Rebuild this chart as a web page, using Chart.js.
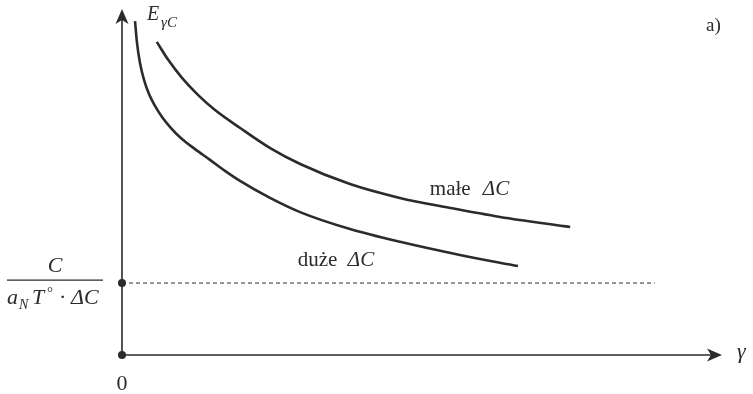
<!DOCTYPE html>
<html>
<head>
<meta charset="utf-8">
<script src="https://cdn.jsdelivr.net/npm/chart.js@4/dist/chart.umd.min.js"></script>
<style>
  html, body { margin: 0; padding: 0; background: #fff; }
  #chart { display: block; }
</style>
</head>
<body>
<canvas id="chart" width="753" height="394"></canvas>
<script>
// curve "duże ΔC" (lower one)
const dużeX = [2.17, 2.5, 3.0, 3.67, 4.5, 5.5, 6.67, 8.17, 10.0, 12.17, 14.67, 17.17, 19.67, 24.67, 29.67, 38.0, 46.33, 56.33, 66.0];
const dużeY = [96.5, 90.2, 84.4, 79.5, 75.4, 72.0, 68.8, 65.6, 62.4, 59.5, 56.4, 53.2, 50.3, 45.4, 41.3, 36.4, 32.7, 28.9, 25.7];
// curve "małe ΔC" (upper one)
const maleX = [5.8, 7.7, 10.0, 12.7, 15.5, 19.7, 24.7, 29.7, 38.0, 46.3, 54.7, 63.0, 74.7];
const maleY = [90.5, 85.3, 80.1, 75.1, 70.8, 65.6, 59.8, 55.2, 49.4, 45.4, 42.5, 39.9, 37.0];
// asymptote level C / (aN T° ΔC) and where the dashed line stops
const asymY = 20.8;
const asymEndX = 88.8;
const labels = { male: "małe", duze: "duże", dC: "ΔC", axisY: "E", axisYSub: "γC", axisX: "γ", tag: "a)", zero: "0" };

const ink = "#2b2b2b";
const serif = "'Liberation Serif', 'DejaVu Serif', serif";

function toPoints(xs, ys) {
  return xs.map((x, i) => ({ x: x, y: ys[i] }));
}

function arrowHead(ctx, x, y, dir) {
  // filled stealth-like head, pointing up or right
  ctx.save();
  ctx.translate(x, y);
  if (dir === "right") ctx.rotate(Math.PI / 2);
  ctx.beginPath();
  ctx.moveTo(0, 0);
  ctx.lineTo(6.5, 15);
  ctx.lineTo(0, 11);
  ctx.lineTo(-6.5, 15);
  ctx.closePath();
  ctx.fillStyle = ink;
  ctx.fill();
  ctx.restore();
}

const axesPlugin = {
  id: "axes",
  beforeDatasetsDraw(chart) {
    const ctx = chart.ctx;
    const xs = chart.scales.x;
    const ys = chart.scales.y;
    const x0 = xs.getPixelForValue(0);
    const y0 = ys.getPixelForValue(0);
    const yTop = ys.getPixelForValue(100);
    const xEnd = xs.getPixelForValue(100);
    ctx.save();
    ctx.strokeStyle = ink;
    ctx.lineWidth = 1.6;
    ctx.beginPath();
    ctx.moveTo(x0, y0);
    ctx.lineTo(x0, yTop + 8);
    ctx.moveTo(x0, y0);
    ctx.lineTo(xEnd - 8, y0);
    ctx.stroke();
    arrowHead(ctx, x0, yTop, "up");
    arrowHead(ctx, xEnd, y0, "right");
    ctx.restore();
  },
  afterDraw(chart) {
    const ctx = chart.ctx;
    const xs = chart.scales.x;
    const ys = chart.scales.y;
    const x0 = xs.getPixelForValue(0);
    const y0 = ys.getPixelForValue(0);
    ctx.save();
    ctx.fillStyle = ink;
    ctx.textBaseline = "alphabetic";
    ctx.textAlign = "left";

    // E_γC
    ctx.font = "italic 20px " + serif;
    ctx.fillText(labels.axisY, x0 + 25, 20);
    ctx.font = "italic 15px " + serif;
    ctx.fillText(labels.axisYSub, x0 + 39, 27);

    // a)
    ctx.font = "19px " + serif;
    ctx.fillText(labels.tag, 706, 31);

    // γ at the end of the x axis
    ctx.font = "italic 22px " + serif;
    ctx.fillText(labels.axisX, 737, y0 + 3);

    // 0 under the origin
    ctx.font = "22px " + serif;
    ctx.textAlign = "center";
    ctx.fillText(labels.zero, x0, 390);
    ctx.textAlign = "left";

    // curve labels
    const mx = xs.getPixelForValue(51.3), my = ys.getPixelForValue(46.2);
    ctx.font = "21px " + serif;
    ctx.fillText(labels.male, mx, my);
    ctx.font = "italic 21px " + serif;
    ctx.fillText(labels.dC, mx + 53, my);
    const dx = xs.getPixelForValue(29.3), dy = ys.getPixelForValue(25.7);
    ctx.font = "21px " + serif;
    ctx.fillText(labels.duze, dx, dy);
    ctx.font = "italic 21px " + serif;
    ctx.fillText(labels.dC, dx + 50, dy);

    // fraction label beside the asymptote
    const yA = ys.getPixelForValue(asymY);
    ctx.font = "italic 22px " + serif;
    ctx.textAlign = "center";
    ctx.fillText("C", 55, yA - 11);
    ctx.lineWidth = 1.2;
    ctx.strokeStyle = ink;
    ctx.beginPath();
    ctx.moveTo(7, yA - 3);
    ctx.lineTo(103, yA - 3);
    ctx.stroke();
    ctx.textAlign = "left";
    const yd = yA + 21;
    ctx.font = "italic 22px " + serif;
    ctx.fillText("a", 7, yd);
    ctx.font = "italic 14px " + serif;
    ctx.fillText("N", 19, yd + 5);
    ctx.font = "italic 22px " + serif;
    ctx.fillText("T", 32, yd);
    ctx.font = "15px " + serif;
    ctx.fillText("°", 47, yd - 7);
    ctx.font = "22px " + serif;
    ctx.fillText("·", 59, yd);
    ctx.font = "italic 22px " + serif;
    ctx.fillText("ΔC", 71, yd);
    ctx.restore();
  }
};

const curveStyle = {
  borderColor: ink,
  borderWidth: 2.6,
  pointRadius: 0,
  fill: false,
  cubicInterpolationMode: "monotone",
  showLine: true
};

new Chart(document.getElementById("chart").getContext("2d"), {
  type: "scatter",
  data: {
    datasets: [
      Object.assign({ label: "duże ΔC", data: toPoints(dużeX, dużeY) }, curveStyle),
      Object.assign({ label: "małe ΔC", data: toPoints(maleX, maleY) }, curveStyle),
      {
        label: "asymptote",
        data: [{ x: 0, y: asymY }, { x: asymEndX, y: asymY }],
        showLine: true,
        borderColor: ink,
        borderWidth: 1,
        borderDash: [4, 3],
        pointRadius: 0
      },
      {
        label: "dots",
        data: [{ x: 0, y: 0 }, { x: 0, y: asymY }],
        showLine: false,
        pointRadius: 4,
        pointBackgroundColor: ink,
        pointBorderWidth: 0,
        clip: false
      }
    ]
  },
  options: {
    responsive: false,
    animation: false,
    layout: { padding: { left: 122, right: 31, top: 9, bottom: 39 } },
    plugins: { legend: { display: false }, tooltip: { enabled: false } },
    scales: {
      x: { type: "linear", min: 0, max: 100, display: false },
      y: { type: "linear", min: 0, max: 100, display: false }
    }
  },
  plugins: [axesPlugin]
});
</script>
</body>
</html>
